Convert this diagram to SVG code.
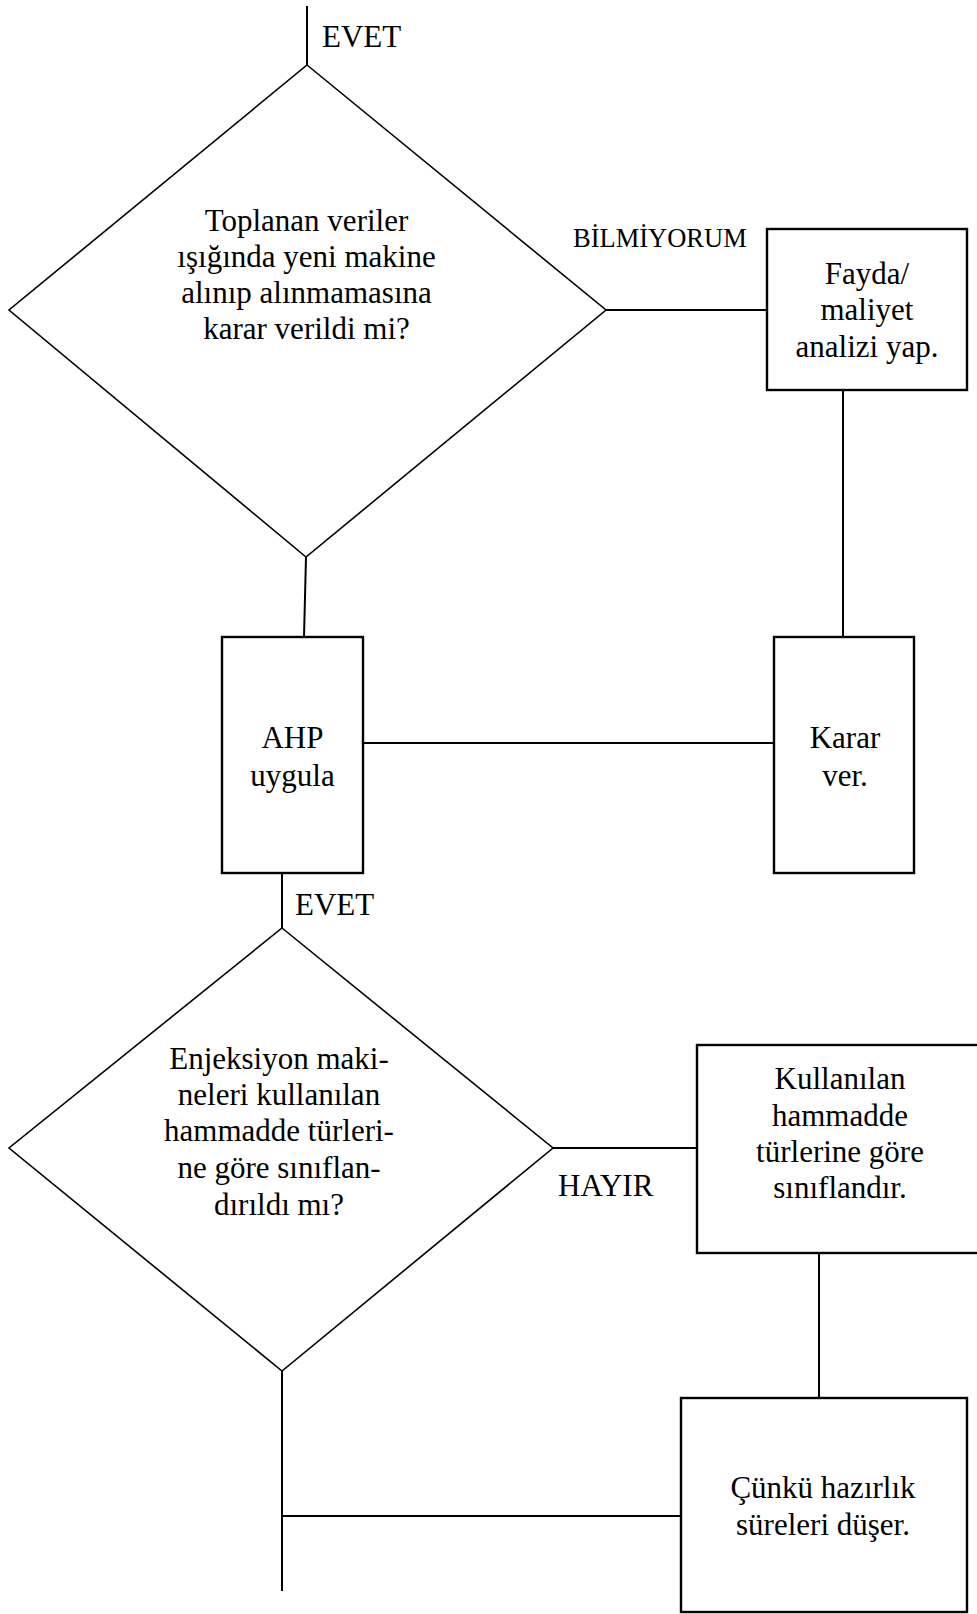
<svg xmlns="http://www.w3.org/2000/svg" width="977" height="1614" viewBox="0 0 977 1614">
  <style>
    text { font-family: "Liberation Serif", "Times New Roman", serif; fill: #000; }
    .t { font-size: 31px; text-anchor: middle; }
    .lbl { font-size: 31px; }
    .small { font-size: 26.5px; }
    .box { fill: #fff; stroke: #000; stroke-width: 2.4; }
    .dia { fill: #fff; stroke: #000; stroke-width: 1.6; }
    .ln { fill: none; stroke: #000; stroke-width: 2; }
  </style>
  <rect width="977" height="1614" fill="#fff"/>

  <!-- connectors -->
  <g id="connectors">
    <line class="ln" x1="307" y1="6" x2="307" y2="65"/>
    <line class="ln" x1="606" y1="310" x2="767" y2="310"/>
    <line class="ln" x1="843" y1="390" x2="843" y2="637"/>
    <line class="ln" x1="306" y1="557" x2="304" y2="637"/>
    <line class="ln" x1="363" y1="743" x2="774" y2="743"/>
    <line class="ln" x1="282" y1="873" x2="282" y2="928"/>
    <line class="ln" x1="553" y1="1148" x2="697" y2="1148"/>
    <line class="ln" x1="819" y1="1253" x2="819" y2="1398"/>
    <line class="ln" x1="282" y1="1371" x2="282" y2="1591"/>
    <line class="ln" x1="282" y1="1516" x2="681" y2="1516"/>
    <text class="lbl" x="322" y="47">EVET</text>
    <text class="small" x="573" y="247">BİLMİYORUM</text>
    <text class="lbl" x="295" y="915">EVET</text>
    <text class="lbl" x="558" y="1196">HAYIR</text>
  </g>

  <!-- decision: machine purchase -->
  <g id="decision-purchase">
    <polygon class="dia" points="307,65 606,310 306,557 9,310"/>
    <text class="t" x="306.5" y="231">Toplanan veriler</text>
    <text class="t" x="306.5" y="267">ışığında yeni makine</text>
    <text class="t" x="306.5" y="303">alınıp alınmamasına</text>
    <text class="t" x="306.5" y="339">karar verildi mi?</text>
  </g>

  <!-- cost/benefit analysis -->
  <g id="cost-benefit">
    <rect class="box" x="767" y="229" width="200" height="161"/>
    <text class="t" x="867" y="284">Fayda/</text>
    <text class="t" x="867" y="320">maliyet</text>
    <text class="t" x="867" y="357">analizi yap.</text>
  </g>

  <!-- AHP -->
  <g id="ahp">
    <rect class="box" x="222" y="637" width="141" height="236"/>
    <text class="t" x="292.5" y="748">AHP</text>
    <text class="t" x="292.5" y="786">uygula</text>
  </g>

  <!-- decide -->
  <g id="decide">
    <rect class="box" x="774" y="637" width="140" height="236"/>
    <text class="t" x="845" y="748">Karar</text>
    <text class="t" x="845" y="786">ver.</text>
  </g>

  <!-- decision: classification -->
  <g id="decision-classified">
    <polygon class="dia" points="282,928 553,1148 282,1371 9,1148"/>
    <text class="t" x="279" y="1069">Enjeksiyon maki-</text>
    <text class="t" x="279" y="1105">neleri kullanılan</text>
    <text class="t" x="279" y="1141">hammadde türleri-</text>
    <text class="t" x="279" y="1178">ne göre sınıflan-</text>
    <text class="t" x="279" y="1215">dırıldı mı?</text>
  </g>

  <!-- classify -->
  <g id="classify">
    <rect class="box" x="697" y="1045" width="290" height="208"/>
    <text class="t" x="840" y="1089">Kullanılan</text>
    <text class="t" x="840" y="1126">hammadde</text>
    <text class="t" x="840" y="1162">türlerine göre</text>
    <text class="t" x="840" y="1198">sınıflandır.</text>
  </g>

  <!-- reason -->
  <g id="reason">
    <rect class="box" x="681" y="1398" width="286" height="214"/>
    <text class="t" x="823" y="1498">Çünkü hazırlık</text>
    <text class="t" x="823" y="1535">süreleri düşer.</text>
  </g>
</svg>
